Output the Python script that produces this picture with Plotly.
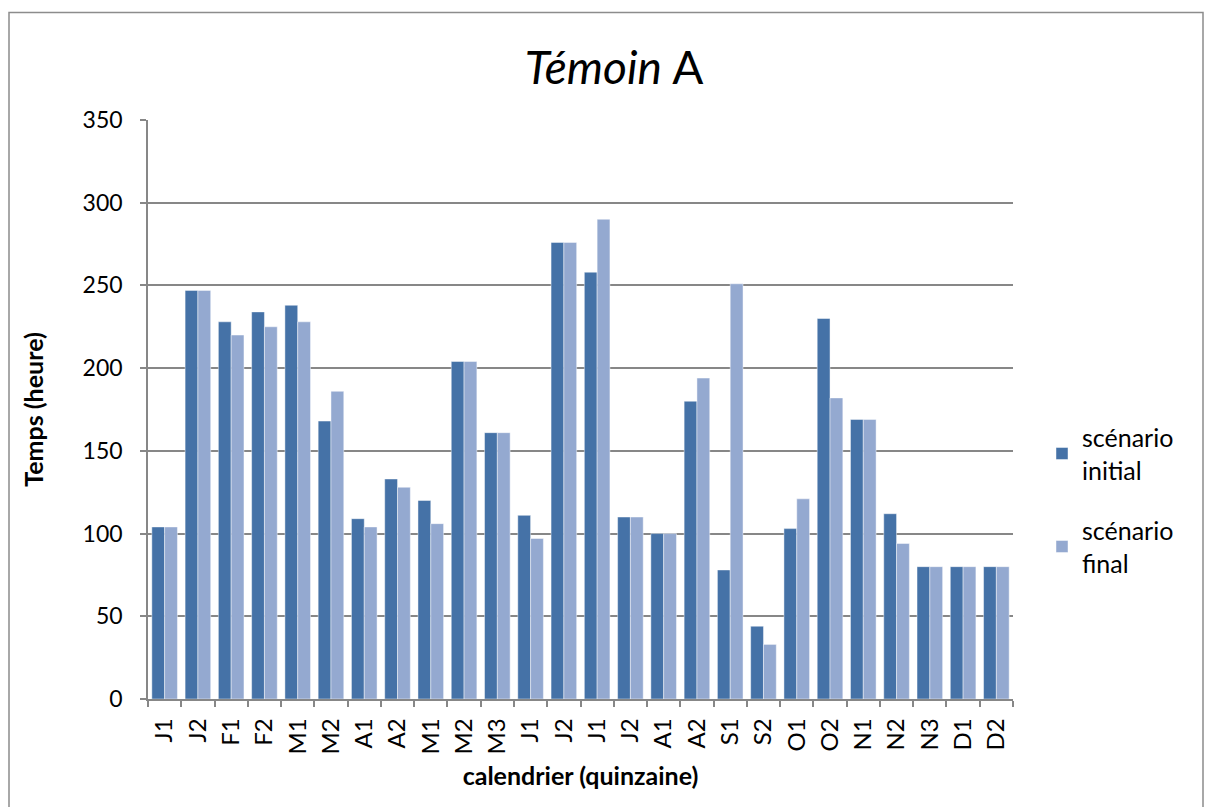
import plotly.graph_objects as go

# Fortnight labels along the calendar (labels repeat, so bars sit at index positions)
periods = ["J1", "J2", "F1", "F2", "M1", "M2", "A1", "A2", "M1", "M2", "M3", "J1", "J2",
           "J1", "J2", "A1", "A2", "S1", "S2", "O1", "O2", "N1", "N2", "N3", "D1", "D2"]

# Hours per fortnight
initial_hours = [104, 247, 228, 234, 238, 168, 109, 133, 120, 204, 161, 111, 276,
                 258, 110, 100, 180, 78, 44, 103, 230, 169, 112, 80, 80, 80]
final_hours = [104, 247, 220, 225, 228, 186, 104, 128, 106, 204, 161, 97, 276,
               290, 110, 100, 194, 251, 33, 121, 182, 169, 94, 80, 80, 80]

y_ticks = [0, 50, 100, 150, 200, 250, 300, 350]

positions = list(range(len(periods)))

FONT = "Lato, 'Open Sans', sans-serif"
GRID = "#878787"
DARK = "#4572a7"
LIGHT = "#94a9d0"

W, H = 1205, 807
L, R, T, B = 148, 192, 120, 108
pw, ph = W - L - R, H - T - B

fig = go.Figure()
fig.add_trace(go.Bar(x=positions, y=initial_hours, name="scénario<br>initial", legendgroup="a",
                     marker=dict(color=DARK, line=dict(color="rgba(255,255,255,0.45)", width=1))))
fig.add_trace(go.Bar(x=positions, y=final_hours, name="scénario<br>final", legendgroup="b",
                     marker=dict(color=LIGHT, line=dict(color="rgba(255,255,255,0.45)", width=1))))


def px_x(x):
    return (x - L) / pw


def px_y(y):
    return (H - B - y) / ph


fig.update_layout(
    width=W, height=H,
    margin=dict(l=L, r=R, t=T, b=B, autoexpand=False),
    paper_bgcolor="white", plot_bgcolor="white",
    font=dict(family=FONT, color="black", size=22),
    barmode="group", bargap=0.23, bargroupgap=0,
    title=dict(text="<i>Témoin</i> A", font=dict(family=FONT, size=46, color="black"),
               xref="paper", x=px_x(614), xanchor="center",
               yref="container", y=1 - 68 / H, yanchor="middle"),
    showlegend=True,
    legend=dict(x=px_x(1042), xanchor="left", y=px_y(500), yanchor="middle",
                font=dict(family=FONT, size=25, color="black"),
                traceorder="grouped", tracegroupgap=25, itemwidth=30,
                bgcolor="rgba(0,0,0,0)"),
    shapes=[dict(type="rect", xref="paper", yref="paper",
                 x0=px_x(9), x1=px_x(1203), y0=px_y(830), y1=px_y(12.5),
                 line=dict(color="#8c8c8c", width=1.5), fillcolor="rgba(0,0,0,0)",
                 layer="below")],
)

fig.update_xaxes(
    range=[-0.5, len(periods) - 0.5],
    tickmode="array", tickvals=positions, ticktext=periods,
    tickangle=-90, ticks="", tickfont=dict(family=FONT, size=24),
    ticklabelstandoff=8,
    showgrid=False, zeroline=False,
    showline=True, linecolor=GRID, linewidth=1.5,
    minor=dict(ticks="outside", tick0=-0.5, dtick=1, ticklen=6,
               tickcolor=GRID, tickwidth=1.5, showgrid=False),
    title=dict(text="<b>calendrier (quinzaine)</b>", font=dict(family=FONT, size=25),
               standoff=14),
)
fig.update_yaxes(
    range=[0, 350], tickmode="array", tickvals=y_ticks,
    ticks="outside", ticklen=6, tickcolor=GRID, tickwidth=1.5,
    tickfont=dict(family=FONT, size=23), ticklabelstandoff=13,
    showgrid=True, gridcolor=GRID, gridwidth=1.5, zeroline=False,
    showline=True, linecolor=GRID, linewidth=1.5,
    title=dict(text="<b>Temps (heure)</b>", font=dict(family=FONT, size=25), standoff=32),
)

fig.write_html("out.html")
